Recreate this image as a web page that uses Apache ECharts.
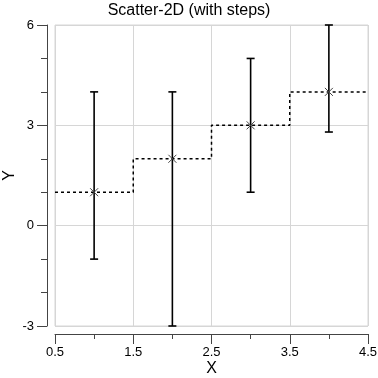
<!DOCTYPE html>
<html>
<head>
<meta charset="utf-8">
<script src="https://cdn.jsdelivr.net/npm/echarts@6/dist/echarts.min.js"></script>
<style>
  html, body { margin: 0; padding: 0; background: #fff; }
  #main { width: 378px; height: 378px; }
</style>
</head>
<body>
<div id="main"></div>
<script>
  // points and their error ranges
  var xVals = [1, 2, 3, 4];
  var yVals = [1, 2, 3, 4];
  var yLow = [-1, -3, 1, 2.8];
  var yHigh = [4, 4, 5, 6];
  // step histogram edges (one bin per point)
  var binEdges = [0.5, 1.5, 2.5, 3.5, 4.5];
  var binValues = [1, 2, 3, 4];

  var stepData = [];
  for (var i = 0; i < binValues.length; i++) {
    stepData.push([binEdges[i], binValues[i]]);
    stepData.push([binEdges[i + 1], binValues[i]]);
  }
  var pointData = xVals.map(function (x, i) {
    return [x, yVals[i], yLow[i], yHigh[i]];
  });

  var font = 'Liberation Sans, Arial, sans-serif';
  var chart = echarts.init(document.getElementById('main'));
  chart.setOption({
    animation: false,
    title: {
      text: 'Scatter-2D (with steps)',
      left: 'center',
      top: -2,
      textStyle: { fontFamily: font, fontSize: 16, fontWeight: 'normal', color: '#000' }
    },
    grid: {
      left: 55, right: 10, top: 25, bottom: 52,
      outerBoundsMode: 'none',
      containLabel: false,
      show: true, borderColor: '#d6d6d6', borderWidth: 1
    },
    xAxis: {
      type: 'value',
      min: 0.5, max: 4.5, interval: 1,
      offset: 8,
      name: 'X',
      nameLocation: 'middle',
      nameMoveOverlap: false,
      nameGap: 27,
      nameTextStyle: { fontFamily: font, fontSize: 16, color: '#000' },
      axisLine: { show: true, onZero: false, lineStyle: { color: '#444', width: 1 } },
      axisTick: { show: true, length: 10, lineStyle: { color: '#444' } },
      minorTick: { show: true, splitNumber: 2, length: 5, lineStyle: { color: '#444' } },
      axisLabel: { margin: 12, fontFamily: font, fontSize: 13, color: '#000' },
      splitLine: { show: true, lineStyle: { color: '#d6d6d6' } }
    },
    yAxis: {
      type: 'value',
      min: -3, max: 6, interval: 3,
      offset: 8,
      name: 'Y',
      nameLocation: 'middle',
      nameMoveOverlap: false,
      nameGap: 29,
      nameTextStyle: { fontFamily: font, fontSize: 16, color: '#000' },
      axisLine: { show: true, onZero: false, lineStyle: { color: '#444', width: 1 } },
      axisTick: { show: true, length: 10, lineStyle: { color: '#444' } },
      minorTick: { show: true, splitNumber: 3, length: 6, lineStyle: { color: '#444' } },
      axisLabel: { margin: 13, fontFamily: font, fontSize: 13, color: '#000' },
      splitLine: { show: true, lineStyle: { color: '#d6d6d6' } }
    },
    series: [
      {
        type: 'line',
        data: stepData,
        symbol: 'none',
        lineStyle: { color: '#000', width: 1.5, type: [3, 3] },
        z: 2
      },
      {
        type: 'custom',
        data: pointData,
        z: 3,
        renderItem: function (params, api) {
          var p = api.coord([api.value(0), api.value(1)]);
          var lo = api.coord([api.value(0), api.value(2)]);
          var hi = api.coord([api.value(0), api.value(3)]);
          var cap = 4, m = 4;
          var bar = { stroke: '#000', lineWidth: 1.6 };
          var mk = { stroke: '#444', lineWidth: 1 };
          return {
            type: 'group',
            children: [
              { type: 'line', shape: { x1: lo[0], y1: lo[1], x2: hi[0], y2: hi[1] }, style: bar },
              { type: 'line', shape: { x1: lo[0] - cap, y1: lo[1], x2: lo[0] + cap, y2: lo[1] }, style: bar },
              { type: 'line', shape: { x1: hi[0] - cap, y1: hi[1], x2: hi[0] + cap, y2: hi[1] }, style: bar },
              { type: 'line', shape: { x1: p[0] - m, y1: p[1] - m, x2: p[0] + m, y2: p[1] + m }, style: mk },
              { type: 'line', shape: { x1: p[0] - m, y1: p[1] + m, x2: p[0] + m, y2: p[1] - m }, style: mk }
            ]
          };
        }
      }
    ]
  });
</script>
</body>
</html>
